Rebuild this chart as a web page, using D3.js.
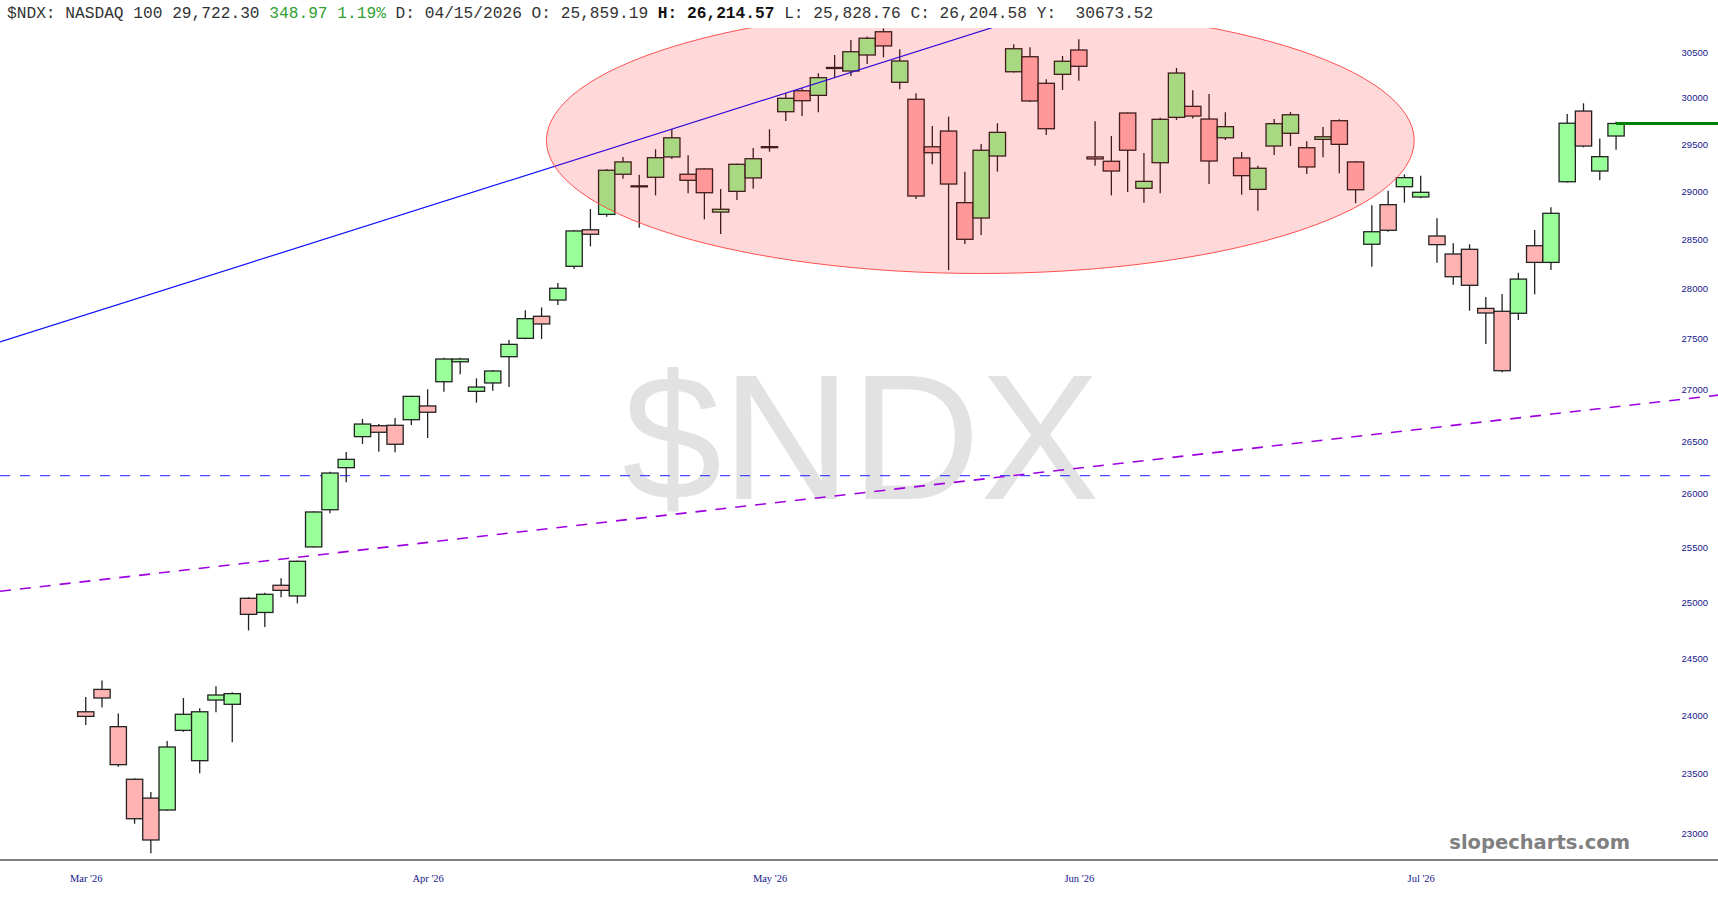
<!DOCTYPE html>
<html>
<head>
<meta charset="utf-8">
<script src="https://cdn.jsdelivr.net/npm/d3@7"></script>
<style>
html, body { margin: 0; padding: 0; background: #fff; }
svg { display: block; }
</style>
</head>
<body>
<svg id="chart" width="1718" height="900"></svg>
<script>
// daily OHLC
var opens = [24030,24225,23901,23451,23292,23192,23869,23609,24132,24095,
    25036,24908,25154,25057,25505,25850,26246,26542,26647,26651,
    26705,26838,27074,27270,26980,27062,27320,27502,27722,27885,
    28227,28602,28762,29182,29058,29150,29365,29182,29238,28786,
    29002,29143,29472,29849,30076,30026,30325,30291,30467,30724,
    30168,29983,29473,29641,28884,28724,29375,30283,30448,30157,
    30255,30522,29365,29319,29835,29034,29304,29788,29907,29770,
    29569,29354,29023,29481,29617,29463,29552,29752,29312,28453,
    28863,29051,28943,28538,28353,28401,27801,27772,27752,28438,
    28267,29103,29856,29216,29588];
var highs = [24159,24304,24016,23459,23343,23777,24150,24060,24252,24200,
    25045,25086,25217,25380,25835,26208,26395,26712,26663,26721,
    26937,27000,27310,27310,27107,27189,27485,27782,27811,28058,
    28600,28818,29238,29365,29177,29446,29663,29383,29245,29026,
    29295,29460,29660,30048,30102,30266,30467,30633,30670,30760,
    30530,30048,29695,29795,29209,29502,29725,30585,30552,30201,
    30456,30641,29746,29588,29840,29407,29784,30324,30081,30041,
    29842,29418,29273,29770,29845,29531,29685,29767,29322,28857,
    29009,29182,29167,28721,28463,28453,27915,27946,28161,28600,
    28836,29824,29940,29562,29740];
var lows = [23916,24068,23558,23077,22832,23186,23857,23502,24025,23766,
    24747,24777,25045,24990,25500,25817,26107,26472,26398,26392,
    26654,26529,26976,27147,26870,26986,27022,27492,27495,27835,
    28199,28432,28737,29135,28623,28960,29344,28981,28710,28559,
    28912,29030,29421,29749,29802,29842,30212,30236,30368,30442,
    30092,28922,29287,28189,28456,28548,29209,30276,29955,29598,
    30084,30185,29273,28960,28995,28884,28981,29760,29777,29079,
    29545,28967,28800,29386,29481,29185,29362,29192,28878,28223,
    28582,28884,28929,28263,28040,27778,27445,27166,27685,27943,
    28189,29095,29467,29118,29442];
var closes = [23990,24150,23575,23119,22942,23726,24008,24030,24176,24188,
    24891,25072,25108,25373,25829,26195,26325,26663,26584,26469,
    26931,26777,27297,27297,27022,27179,27442,27698,27645,28004,
    28590,28556,29224,29312,29060,29357,29569,29118,28988,28815,
    29287,29346,29474,29994,29968,30218,30330,30503,30652,30567,
    30401,28953,29410,29079,28504,29436,29627,30536,29965,29666,
    30398,30343,29344,29216,29436,29107,29767,30269,29802,29322,
    29688,29167,29245,29720,29816,29259,29580,29499,29019,28582,
    28597,29146,28992,28449,28121,28034,27755,27182,28097,28267,
    28773,29725,29481,29368,29722.30];

var monthLabels = ["Mar '26", "Apr '26", "May '26", "Jun '26", "Jul '26"];
var monthBars = [0, 21, 42, 61, 82];
var priceTicks = d3.range(23000, 30501, 500);

// drawn annotations, as (bar, price) anchors
var trendBlue = [{ i: 0, v: 27737 }, { i: 50, v: 30446 }];
var trendPurple = [{ i: 0, v: 25189 }, { i: 94, v: 26830 }];
var levelBlue = 26170;
var ellipseBars = [28.3, 81.6];
var ellipsePrices = [30994, 28154];

var header = [
    { t: "$NDX: NASDAQ 100 29,722.30 ", c: "#333" },
    { t: "348.97 1.19%", c: "#32a032" },
    { t: " D: 04/15/2026 O: 25,859.19 ", c: "#333" },
    { t: "H: 26,214.57", c: "#111", b: true },
    { t: " L: 25,828.76 C: 26,204.58 Y:  30673.52", c: "#333" }
];

var W = 1718, H = 900,
    plotTop = 28, plotBottom = 860;

var n = closes.length;
var svg = d3.select("#chart");

var x = d3.scaleBand().domain(d3.range(n)).range([77.6, 1624.2]).padding(0);
var bw = x.bandwidth();
var xi = d3.scaleLinear().domain([0, n - 1]).range([x(0) + bw / 2, x(n - 1) + bw / 2]);
var y = d3.scaleLog().domain([23000, 30500]).range([833, 52]);

svg.append("defs").append("clipPath").attr("id", "plot")
    .append("rect").attr("x", 0).attr("y", plotTop).attr("width", W).attr("height", plotBottom - plotTop);

// watermark
svg.append("text")
    .attr("x", 861).attr("y", 499)
    .attr("text-anchor", "middle")
    .style("font-family", "'Liberation Sans', Arial, sans-serif")
    .style("font-size", "179px")
    .style("fill", "#e2e2e2")
    .text("$NDX");

var plot = svg.append("g").attr("clip-path", "url(#plot)");

function extend(p) {
    var x0 = xi(p[0].i), y0 = y(p[0].v), x1 = xi(p[1].i), y1 = y(p[1].v);
    var k = (y1 - y0) / (x1 - x0);
    return [[0, y0 - k * x0], [W, y0 + k * (W - x0)]];
}

plot.append("line")
    .attr("x1", 0).attr("x2", W)
    .attr("y1", y(levelBlue)).attr("y2", y(levelBlue))
    .attr("stroke", "#4848ff").attr("stroke-width", 1.3)
    .attr("stroke-dasharray", "10,10");

var pp = extend(trendPurple);
plot.append("line")
    .attr("x1", pp[0][0]).attr("y1", pp[0][1]).attr("x2", pp[1][0]).attr("y2", pp[1][1])
    .attr("stroke", "#a000e0").attr("stroke-width", 1.6)
    .attr("stroke-dasharray", "11,9");

// candles
var bars = plot.selectAll("g.bar")
    .data(d3.range(n))
    .enter().append("g").attr("class", "bar");

bars.append("line")
    .attr("x1", function (i) { return x(i) + bw / 2; })
    .attr("x2", function (i) { return x(i) + bw / 2; })
    .attr("y1", function (i) { return y(highs[i]); })
    .attr("y2", function (i) { return y(lows[i]); })
    .attr("stroke", "#222").attr("stroke-width", 1.3);

bars.append("rect")
    .attr("x", function (i) { return x(i); })
    .attr("width", bw)
    .attr("y", function (i) { return y(Math.max(opens[i], closes[i])); })
    .attr("height", function (i) { return Math.max(1, Math.abs(y(opens[i]) - y(closes[i]))); })
    .attr("fill", function (i) { return closes[i] >= opens[i] ? "#99ff99" : "#ffb3b3"; })
    .attr("stroke", "#222").attr("stroke-width", 1.3);

var bp = extend(trendBlue);
plot.append("line")
    .attr("x1", bp[0][0]).attr("y1", bp[0][1]).attr("x2", bp[1][0]).attr("y2", bp[1][1])
    .attr("stroke", "#1010ff").attr("stroke-width", 1.2);

var ex0 = xi(ellipseBars[0]), ex1 = xi(ellipseBars[1]),
    ey0 = y(ellipsePrices[0]), ey1 = y(ellipsePrices[1]);
plot.append("ellipse")
    .attr("cx", (ex0 + ex1) / 2).attr("cy", (ey0 + ey1) / 2)
    .attr("rx", (ex1 - ex0) / 2).attr("ry", (ey1 - ey0) / 2)
    .attr("fill", "rgba(255,0,0,0.15)")
    .attr("stroke", "#ff5050").attr("stroke-width", 1);

// last price level
plot.append("line")
    .attr("x1", xi(n - 1)).attr("x2", W)
    .attr("y1", y(closes[n - 1])).attr("y2", y(closes[n - 1]))
    .attr("stroke", "#008000").attr("stroke-width", 3);

// price axis
var yAxis = svg.append("g")
    .attr("transform", "translate(1708,0)")
    .call(d3.axisLeft(y).tickValues(priceTicks).tickSize(0).tickPadding(0).tickFormat(d3.format("d")));
yAxis.select(".domain").remove();
yAxis.selectAll("text")
    .style("font-family", "'Liberation Sans', Arial, sans-serif")
    .style("font-size", "9.5px")
    .style("fill", "#16168c");

// time axis
svg.append("line")
    .attr("x1", 0).attr("x2", W).attr("y1", plotBottom).attr("y2", plotBottom)
    .attr("stroke", "#808080").attr("stroke-width", 2);

var xAxis = svg.append("g")
    .attr("transform", "translate(0," + plotBottom + ")")
    .call(d3.axisBottom(xi).tickValues(monthBars).tickSize(0).tickPadding(15)
        .tickFormat(function (d, k) { return monthLabels[k]; }));
xAxis.select(".domain").remove();
xAxis.selectAll("text")
    .style("font-family", "'Liberation Serif', 'Times New Roman', serif")
    .style("font-size", "10.5px")
    .style("fill", "#16168c");

// header
var head = svg.append("text")
    .attr("x", 7).attr("y", 18)
    .style("font-family", "'Liberation Mono', 'Courier New', monospace")
    .style("font-size", "16.2px")
    .style("white-space", "pre");
head.selectAll("tspan")
    .data(header)
    .enter().append("tspan")
    .attr("fill", function (d) { return d.c; })
    .style("font-weight", function (d) { return d.b ? "bold" : "normal"; })
    .text(function (d) { return d.t; });

svg.append("text")
    .attr("x", 1630).attr("y", 849)
    .attr("text-anchor", "end")
    .style("font-family", "'DejaVu Sans', Verdana, sans-serif")
    .style("font-weight", "bold")
    .style("font-size", "19.5px")
    .style("fill", "#808080")
    .text("slopecharts.com");
</script>
</body>
</html>
